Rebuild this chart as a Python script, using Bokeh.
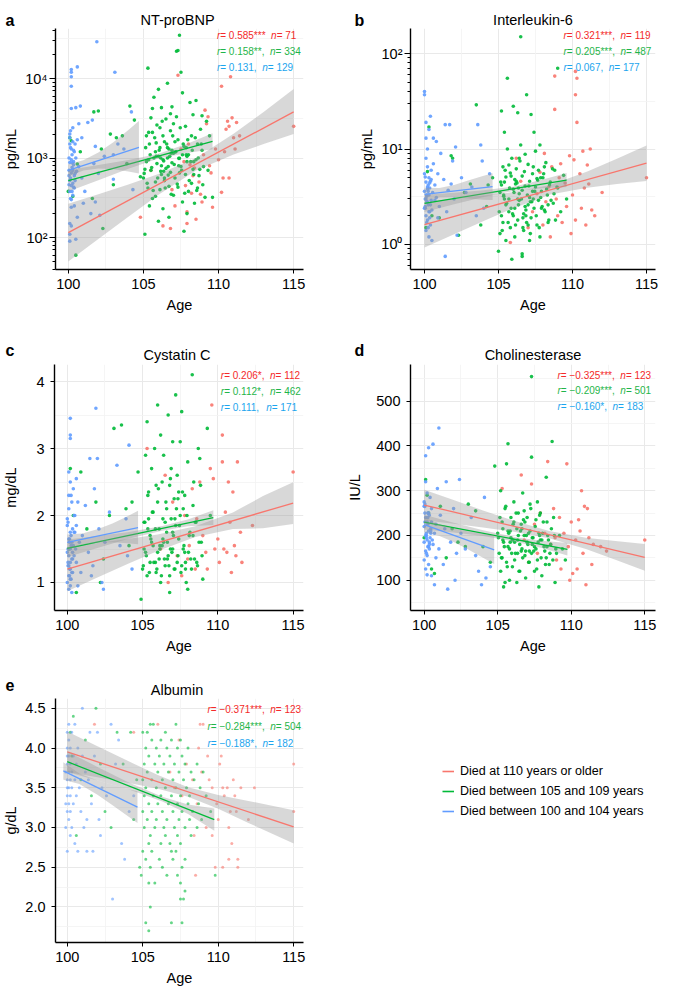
import math
from bokeh.plotting import figure
from bokeh.layouts import column, row
from bokeh.models import Range1d, FixedTicker, Label, Grid, Legend, LegendItem
from bokeh.embed import file_html
from bokeh.resources import INLINE

FONT = "Liberation Sans"
C_RED, C_GREEN, C_BLUE = "#F8766D", "#00BA38", "#619CFF"
T_RED, T_GREEN, T_BLUE = "#F42A2A", "#1FB54A", "#1CA5EE"
GROUPS = ["Died at 110 years or older", "Died between 105 and 109 years",
          "Died between 100 and 104 years"]
X_TICKS = [100, 105, 110, 115]
BULK_AGES = [105.05,105.15,105.25,105.35,105.45,105.55,105.65,105.75,105.85,105.95,
             106.05,106.15,106.25,106.35,106.45,106.55,106.65,106.75,106.85,106.95,
             107.05,107.15,107.25,107.35,107.45,107.55,107.65,107.75,107.85,107.95,
             108.05,108.15,108.25,108.35,108.45,108.55,108.65,108.75,108.85,108.95,
             105.35,105.85,106.35,106.85,107.35,107.85,108.35,106.15,106.65,107.15]
CENT_AGES = [100.05,100.15,100.25,100.35,100.05,100.15,100.25,100.35,100.45,100.05,
             100.15,100.25,100.35,100.45,100.05,100.15,100.25,100.35,100.45,100.55]

# ---------------- a: NT-proBNP (pg/mL) ----------------
a_blue_age = [100.1,100.1,100.2,100.2,100.2,100.2,100.2,100.2,100.3,100.1,
              100.3,100.2,100.1,100.3,100.2,100.4,100.1,100.3,100.2,100.4,
              100.1,100.3,100.2,100.4,100.2,100.1,100.2,100.1,100.1,100.5,
              100.5,100.6,100.7,100.8,100.6,100.9,100.5,100.7,100.9,101.1,
              101.0,101.3,101.6,101.9,101.8,101.7,102.0,101.5,101.8,102.1,
              102.4,103.1,103.0,103.3,103.7,104.2,104.3,103.0,100.4,100.6] + CENT_AGES
a_blue_val = [1500,1800,1300,13000,12000,10500,8000,4200,2400,2000,
              1600,950,880,700,650,600,520,480,450,420,
              380,340,300,250,240,150,140,110,90,95,
              4300,14000,2700,4500,1700,1800,1000,780,560,380,
              270,2800,3000,29000,1400,850,640,200,280,190,
              1050,12000,1100,1500,1300,3800,400,540,1200,180,
              700,560,1100,820,460,1350,380,900,640,1000,
              310,760,1250,520,600,2200,870,430,1500,680]
a_green_age = [100.1,100.2,100.0,100.3,100.5,100.6,100.8,101.7,102.0,102.2,
               102.8,103.2,103.6,104.1,104.4,103.9,104.8,102.3,101.6,103.0,
               105.1,105.3,105.0,105.2,105.4,105.5,105.6,105.5,105.3,105.7,
               105.8,105.9,105.6,105.8,106.0,106.1,106.0,106.2,106.1,106.3,
               106.2,106.4,106.3,106.5,106.4,106.6,106.5,106.7,106.6,106.8,
               106.7,106.9,106.8,107.0,106.9,107.1,107.0,107.2,107.3,107.4,
               107.5,107.2,107.3,107.4,107.5,107.3,107.6,107.7,107.6,107.8,
               107.7,107.9,107.8,108.0,108.1,108.2,108.0,108.3,108.2,108.4,
               108.5,108.6,108.5,108.7,108.8,108.9,109.0,109.1,109.2,109.4,
               109.6,105.2,105.9,106.3,106.6,107.1,107.9,106.1,106.9,105.7,
               106.4,107.4,105.4,106.0,108.6,106.8,105.1,107.0,105.6,108.3,
               107.6,106.2,106.7,105.8,107.9,108.9,109.3] + BULK_AGES
a_green_val = [1800,1650,380,330,60,840,1200,3800,3900,1300,
               2000,1800,1900,4500,3000,850,580,130,310,460,
               110,13500,560,900,1500,3200,2100,700,420,5800,
               1200,850,310,500,7300,2400,1050,620,400,230,
               4300,1600,950,740,520,8700,3100,1300,1000,660,
               180,4400,2200,1150,870,560,340,22000,22500,35000,
               12000,3300,1700,990,780,430,280,120,6600,2500,
               1400,900,620,380,5000,1900,1100,720,480,270,
               5300,1500,950,600,2300,1250,780,320,2900,1900,
               320,1900,2600,1900,1350,1600,1050,1350,1250,1000,
               560,650,250,160,420,3600,720,2700,4200,3500,
               1100,800,440,330,200,3400,700,
               640,1350,480,2100,1100,760,390,1800,1050,560,
               1250,680,2900,920,420,1500,610,1050,350,1900,
               830,1200,470,990,2400,700,1500,360,1100,1700,
               520,900,1250,620,1800,390,1000,720,1500,460,
               950,1550,680,1150,800,1350,900,1000,780,1200]
a_red_age = [104.8,105.5,106.3,106.8,107.1,107.3,107.5,107.7,107.8,107.9,
             107.9,108.1,108.2,108.3,108.5,108.7,108.9,108.8,109.0,109.2,
             109.3,109.1,109.5,109.8,110.0,110.2,110.2,110.3,110.5,110.6,
             110.7,110.8,110.9,111.0,111.1,111.2,111.4,110.4,109.6,108.4,
             115.0,110.7,108.0,106.9,109.4]
a_red_val = [180,700,140,130,250,11000,1300,900,450,210,
             150,820,360,600,170,500,280,350,1100,2700,
             3300,4000,650,1300,950,8000,370,560,2300,2900,
             560,10500,3200,1800,1300,2800,1900,1200,240,750,
             2500,2500,1500,400,800]
a_red_fit_age, a_red_fit_val = [100, 115], [115, 3800]
a_red_band_age = [100, 102, 104, 106, 108.5, 111, 113, 115]
a_red_band_lo = [50, 96, 183, 345, 694, 1107, 1498, 2000]
a_red_band_hi = [265, 350, 466, 630, 1002, 2022, 3792, 7400]
a_green_fit_age, a_green_fit_val = [100, 109.6], [518, 1622]
a_green_band_age = [100, 102, 104, 106, 108, 109.6]
a_green_band_lo = [379, 527, 735, 986, 1167, 1288]
a_green_band_hi = [706, 817, 946, 1132, 1538, 2042]
a_blue_fit_age, a_blue_fit_val = [100, 104.7], [700, 1360]
a_blue_band_age = [100, 101, 102, 103, 104, 104.7]
a_blue_band_lo = [586, 694, 738, 724, 678, 637]
a_blue_band_hi = [836, 937, 1169, 1583, 2244, 2911]
a_r = ["0.585***", "0.158**", "0.131"]
a_sep = ["", ",", ","]
a_n = ["71", "334", "129"]

# ---------------- b: Interleukin-6 (pg/mL) ----------------
b_blue_age = [100.0,100.0,100.1,100.3,100.4,100.1,100.2,100.1,100.2,100.0,
              100.3,100.1,100.2,100.0,100.3,100.1,100.2,100.4,100.0,100.3,
              100.1,100.2,100.4,100.1,100.3,100.5,100.6,100.8,100.6,100.9,
              100.7,100.8,101.0,100.9,101.1,101.3,101.4,101.7,101.4,101.6,
              101.5,101.9,102.1,101.8,102.2,102.0,102.5,103.2,103.8,103.9,
              103.6,104.0,104.4,103.5,102.8,100.5,100.7,100.2,100.4] + CENT_AGES
b_blue_val = [40,37,19,16,22,13,10,8,6.5,5.5,
              5,4.5,4,3.6,3.3,3.0,2.8,2.6,2.4,2.2,
              2.0,1.8,1.6,1.4,1.2,1.1,13,12,7,5.5,
              4.2,3.1,2.5,1.9,9,4.8,18,18,0.75,3.7,
              2.2,7.5,10.5,4.3,1.25,3.0,5.0,4.0,11,7.5,
              18,2.4,5.5,2.0,3.5,2.3,2.9,3.8,4.6,
              2.5,3.3,4.2,1.9,5.1,2.8,3.6,2.2,4.8,3.0,
              1.7,2.6,3.9,6.0,2.4,3.2,1.5,4.4,2.9,3.5]
b_green_age = [100.1,100.2,100.3,100.5,101.0,101.8,101.9,102.3,102.7,103.1,
               103.5,103.8,104.3,104.6,104.2,105.0,105.1,105.2,105.1,105.3,
               105.2,105.4,105.3,105.5,105.4,105.6,105.6,105.5,105.7,105.8,
               105.7,105.9,105.8,106.0,106.0,106.1,106.2,106.1,106.3,106.2,
               106.4,106.3,106.5,106.5,106.4,106.6,106.6,106.7,106.8,106.7,
               106.9,106.8,107.0,107.0,107.1,107.2,107.1,107.3,107.2,107.4,
               107.4,107.5,107.5,107.6,107.7,107.7,107.8,107.9,107.8,108.0,
               108.1,108.2,108.3,108.4,108.5,108.7,108.8,109.0,109.0,109.2,
               109.4,109.6,105.9,106.6,106.9,105.4,106.1,106.8,107.3,105.7,
               106.4,107.6,108.1,105.2,106.0,107.0,107.9,106.3,106.6,105.5,
               107.1] + BULK_AGES
b_green_val = [1.5,5.8,17,2.0,1.9,8.5,8.0,1.25,3.5,4.3,
               29,1.6,4.2,5.0,2.5,0.85,1.3,2.0,3.5,6.5,
               25,15,1.7,2.6,4.5,55,10,1.1,3.0,5.6,
               2.2,8.0,1.5,28,3.8,2.4,6.2,1.2,24,4.6,
               2.9,1.8,150,11,3.4,5.2,0.8,2.1,8.8,1.4,
               37,4.1,2.6,6.9,1.1,23,3.1,5.5,1.9,15,
               2.4,9.5,4.0,1.6,6.0,2.9,11,3.6,1.2,5.0,
               2.3,7.2,3.3,1.8,4.5,2.7,6.0,70,3.9,2.2,
               5.3,3.0,0.7,0.75,1.7,3.0,4.8,2.5,3.6,6.8,
               8.0,4.9,6.5,4.2,2.0,1.6,2.4,3.0,3.7,5.1,
               4.6,
               2.2,4.5,1.4,3.2,6.0,2.7,1.7,3.9,5.2,2.1,
               3.5,1.6,4.4,2.6,7.5,3.0,1.9,5.8,2.3,3.3,
               4.1,1.3,2.8,6.5,3.6,2.0,4.7,1.5,3.1,2.5,
               5.5,2.2,3.8,1.7,4.2,2.9,6.2,3.4,1.8,4.0,
               3.3,2.4,3.9,2.0,3.0,5.0,2.6,4.3,1.5,2.8]
b_red_age = [105.8,106.2,106.5,107.0,107.3,107.6,107.8,108.0,108.2,108.4,
             108.5,108.6,108.8,108.8,108.9,109.0,109.2,109.3,109.5,109.6,
             109.8,110.0,110.2,110.2,110.3,110.3,110.2,110.5,110.6,110.7,
             110.8,110.9,111.0,111.2,111.3,111.5,111.1,110.1,109.1,115.0,
             112.0,109.9,108.1]
b_red_val = [1.05,8.0,4.6,1.5,2.2,3.4,5.7,1.6,2.8,4.0,
             1.2,6.5,26,58,3.0,2.0,7.0,1.7,4.4,2.5,
             8.5,3.3,65,37,55,19,1.8,5.5,2.4,9.5,
             3.9,1.6,6.8,10,2.3,2.0,4.3,7.7,5.0,5.0,
             3.5,1.3,9.0]
b_red_fit_age, b_red_fit_val = [100, 115], [1.61, 7.1]
b_red_band_age = [100, 102, 104, 106, 108.5, 111, 113, 115]
b_red_band_lo = [0.93, 1.28, 1.76, 2.40, 3.33, 3.93, 4.29, 4.63]
b_red_band_hi = [2.79, 3.01, 3.25, 3.54, 4.19, 5.81, 7.91, 10.9]
b_green_fit_age, b_green_fit_val = [100, 109.6], [2.69, 4.73]
b_green_band_age = [100, 102, 104, 106, 108, 109.6]
b_green_band_lo = [2.19, 2.64, 3.14, 3.64, 3.88, 4.0]
b_green_band_hi = [3.31, 3.48, 3.69, 4.03, 4.78, 5.6]
b_blue_fit_age, b_blue_fit_val = [100, 104.6], [3.35, 4.03]
b_blue_band_age = [100, 101, 102, 103, 104, 104.6]
b_blue_band_lo = [2.85, 3.11, 3.13, 3.03, 2.95, 2.92]
b_blue_band_hi = [3.94, 3.91, 4.21, 4.70, 5.24, 5.56]
b_r = ["0.321***", "0.205***", "0.067"]
b_sep = [",", ",", ","]
b_n = ["119", "487", "177"]

# ---------------- c: Cystatin C (mg/dL) ----------------
c_blue_age = [100.0,100.1,100.2,100.2,100.2,100.1,100.2,100.1,100.3,100.0,
              100.2,100.1,100.3,100.2,100.0,100.1,100.3,100.2,100.1,100.2,
              100.3,100.1,100.2,100.0,100.2,100.1,100.3,100.4,100.5,100.6,
              100.7,100.5,100.8,100.6,100.9,100.7,101.0,101.2,101.5,101.4,
              101.6,101.9,102.0,101.8,102.1,101.7,102.3,102.5,102.8,103.3,
              103.5,103.9,104.1,104.3,104.0,102.4,100.4,100.6] + CENT_AGES
c_blue_val = [1.95,2.1,3.45,3.2,3.15,2.65,2.5,2.3,2.2,1.85,
              1.75,1.65,1.6,1.5,1.45,1.4,1.35,1.3,1.25,1.2,
              1.15,1.1,1.05,1.0,0.95,0.9,0.85,2.4,2.0,2.55,
              2.2,1.75,1.6,1.3,1.15,0.95,1.7,2.15,2.85,1.45,
              1.1,3.6,2.85,2.4,1.8,1.25,1.0,1.6,2.05,2.75,
              1.55,1.95,3.05,1.2,1.4,0.9,1.55,1.85,
              1.5,1.2,1.7,1.35,1.9,1.1,1.55,1.45,2.0,1.25,
              1.65,1.05,1.8,1.4,1.3,1.6,2.3,1.15,1.75,1.5]
c_green_age = [100.2,100.4,100.1,100.6,100.9,101.3,101.9,102.2,102.4,102.8,
               103.1,103.6,103.9,104.3,104.7,104.9,104.1,105.0,105.1,105.2,
               105.2,105.3,105.4,105.3,105.5,105.6,105.5,105.7,105.8,105.7,
               105.9,106.0,106.0,106.1,106.1,106.2,106.3,106.2,106.4,106.4,
               106.5,106.6,106.6,106.7,106.7,106.8,106.8,106.9,107.0,107.0,
               107.1,107.1,107.2,107.2,107.3,107.3,107.4,107.5,107.5,107.6,
               107.6,107.7,107.8,107.9,108.0,108.1,108.3,108.2,108.4,108.5,
               108.7,108.8,108.9,109.0,109.3,109.5,106.3,105.4,106.9,107.8,
               105.9,107.4,106.5,105.6,107.0,108.6,106.0,105.1,108.0,107.7,
               106.8] + BULK_AGES
c_green_val = [2.7,2.0,1.5,0.85,2.65,1.8,2.2,1.0,1.35,2.0,
               3.3,3.35,2.1,2.2,2.65,0.75,1.55,1.2,1.9,2.9,
               1.45,3.4,2.35,1.1,1.7,2.7,1.3,2.05,3.0,1.55,
               1.15,3.65,2.2,1.8,1.35,3.2,2.5,1.0,1.6,2.9,
               1.25,2.1,1.75,3.5,1.4,2.45,1.1,1.95,3.1,1.5,
               2.25,1.2,3.8,1.85,2.6,1.3,1.65,3.1,2.0,3.55,
               1.25,1.5,2.3,1.0,2.8,1.7,4.1,1.35,2.5,1.9,
               3.0,2.85,1.6,1.05,3.3,2.0,1.55,1.95,2.7,1.45,
               2.45,2.35,1.9,1.6,1.75,1.3,1.45,1.5,0.9,2.1,
               0.85,
               1.25,1.9,1.4,2.3,1.15,1.65,2.05,1.3,1.8,1.2,
               2.4,1.5,1.1,1.95,1.35,2.2,1.6,1.25,2.55,1.45,
               1.7,1.2,2.1,1.4,1.85,1.15,2.35,1.55,1.3,2.0,
               1.45,1.75,1.2,2.15,1.35,1.9,1.25,1.6,2.45,1.4,
               1.8,1.3,1.65,1.5,2.25,1.2,1.7,1.55,1.35,1.95]
c_red_age = [105.3,106.5,106.7,106.2,107.0,107.3,107.6,107.8,108.1,108.3,
             108.5,108.6,108.8,109.0,109.2,109.5,109.6,109.7,109.8,110.0,
             110.1,110.3,110.3,110.4,110.6,110.7,110.8,110.9,111.0,111.1,
             111.3,111.5,111.6,112.3,115.0,109.3,108.0,110.5,111.2]
c_red_val = [3.0,2.6,1.0,1.5,2.2,1.4,1.1,2.0,1.55,2.4,
             1.2,1.95,2.5,1.7,1.45,2.7,3.65,2.55,1.5,1.65,
             1.3,3.2,2.8,1.5,1.45,2.5,1.9,1.15,2.35,1.55,
             2.8,1.75,1.3,1.85,2.65,1.2,1.35,2.05,1.4]
c_red_fit_age, c_red_fit_val = [100, 115], [1.20, 2.185]
c_red_band_age = [100, 102, 104, 106, 108.5, 111, 113, 115]
c_red_band_lo = [0.87, 1.073, 1.276, 1.47, 1.678, 1.798, 1.81, 1.875]
c_red_band_hi = [1.53, 1.589, 1.65, 1.718, 1.838, 2.046, 2.29, 2.495]
c_green_fit_age, c_green_fit_val = [100, 109.7], [1.51, 1.97]
c_green_band_age = [100, 102, 104, 106.3, 108, 109.7]
c_green_band_lo = [1.38, 1.515, 1.65, 1.774, 1.839, 1.86]
c_green_band_hi = [1.64, 1.695, 1.75, 1.844, 1.939, 2.08]
c_blue_fit_age, c_blue_fit_val = [100, 104.7], [1.60, 1.82]
c_blue_band_age = [100, 101, 102, 103, 104, 104.7]
c_blue_band_lo = [1.485, 1.562, 1.594, 1.60, 1.587, 1.57]
c_blue_band_hi = [1.715, 1.732, 1.794, 1.88, 1.987, 2.07]
c_r = ["0.206*", "0.112*", "0.111"]
c_sep = [",", ",", ","]
c_n = ["112", "462", "171"]

# ---------------- d: Cholinesterase (IU/L) ----------------
d_blue_age = [100.0,100.1,100.3,100.6,100.1,100.2,100.0,100.3,100.1,100.2,
              100.0,100.3,100.1,100.2,100.0,100.3,100.1,100.2,100.0,100.3,
              100.1,100.2,100.4,100.5,101.0,100.5,100.7,100.6,100.8,100.5,
              100.7,100.9,101.1,101.0,101.3,101.5,101.4,101.6,101.8,102.0,
              102.2,102.1,102.5,102.8,103.2,103.5,103.7,104.1,104.2,103.9,
              104.5,102.4,100.4,100.8] + CENT_AGES
d_blue_val = [275,378,396,404,320,295,265,250,240,230,
              220,210,200,190,185,175,165,155,145,135,
              125,112,285,260,440,230,205,180,150,110,
              90,305,245,170,135,320,215,80,185,260,
              160,100,205,170,240,155,120,285,105,90,
              130,325,195,225,
              250,205,225,180,265,195,240,170,215,230,
              160,250,185,205,270,200,175,245,210,190]
d_green_age = [100.1,100.2,100.0,100.3,100.5,100.7,101.1,101.5,101.9,102.3,
               102.8,103.0,103.5,104.0,104.5,104.8,105.0,105.1,105.2,105.2,
               105.3,105.4,105.4,105.5,105.6,105.6,105.7,105.8,105.8,105.9,
               106.0,106.0,106.1,105.7,106.2,106.3,106.3,106.4,106.5,106.5,
               106.6,106.7,106.7,106.8,106.9,106.9,107.0,107.0,107.1,107.2,
               107.2,107.3,107.3,107.3,107.4,107.5,107.6,107.6,107.7,107.7,
               107.8,107.9,108.0,108.1,108.2,108.3,108.4,108.7,108.5,108.6,
               108.8,108.9,109.0,109.2,109.4,109.6,106.4,105.7,107.1,106.1,
               107.9,105.3,106.8,108.0,105.9,107.5,106.6,108.3,105.5,107.8] + BULK_AGES
d_green_val = [325,290,195,250,125,115,265,150,215,185,
               175,270,255,175,140,355,205,160,300,120,
               230,185,85,260,140,360,210,170,100,240,
               190,130,275,405,160,215,95,250,180,120,
               225,150,295,200,165,105,240,185,140,270,
               210,375,160,555,195,120,235,170,275,145,
               205,190,110,230,165,330,200,410,135,180,
               240,95,160,200,170,145,200,175,205,230,
               250,150,255,190,195,175,165,150,95,85,
               195,240,150,215,175,265,130,205,185,160,
               225,145,250,190,120,210,170,235,155,200,
               180,140,260,195,165,220,125,185,245,150,
               205,175,135,230,190,160,215,145,200,170,
               190,210,160,230,180,200,175,185,215,165]
d_red_age = [105.3,106.6,106.8,107.1,107.3,107.5,107.7,107.9,108.2,108.4,
             108.6,108.8,109.0,109.2,109.3,109.5,109.7,109.8,110.0,110.1,
             110.3,110.4,110.6,110.8,110.9,111.0,111.2,111.4,111.5,111.1,
             110.7,112.0,112.4,115.0,109.9,108.9,110.5]
d_red_val = [305,335,190,140,315,225,160,250,205,365,
             180,260,145,240,125,205,360,175,230,115,
             190,125,210,160,265,90,195,135,180,260,
             300,175,165,190,100,195,235]
d_red_fit_age, d_red_fit_val = [100, 115], [268, 151]
d_red_band_age = [100, 102, 104, 106, 108.5, 111, 113, 115]
d_red_band_lo = [234, 226, 217.6, 208.6, 193.7, 169.6, 145.6, 121]
d_red_band_hi = [302, 279, 256, 233.8, 209.7, 194.8, 187.6, 181]
d_green_fit_age, d_green_fit_val = [100, 109.74], [230, 169]
d_green_band_age = [100, 102, 104, 106.3, 108, 109.74]
d_green_band_lo = [213.5, 206.5, 198.5, 185.6, 171.9, 155]
d_green_band_hi = [246.5, 228.5, 211.5, 195.6, 187.9, 183]
d_blue_fit_age, d_blue_fit_val = [100, 104.76], [224, 168]
d_blue_band_age = [100, 101, 102, 103, 104, 104.76]
d_blue_band_lo = [207, 199.2, 185.5, 168.7, 150, 136]
d_blue_band_hi = [241, 225.2, 215.5, 208.7, 204, 200]
d_r = ["\u22120.325***", "\u22120.209***", "\u22120.160*"]
d_sep = [",", ",", ","]
d_n = ["123", "501", "183"]

# ---------------- e: Albumin (g/dL) ----------------
e_blue_age = [99.9,99.9,99.9,100.0,100.0,100.0,100.0,100.0,100.0,100.0,
              100.0,100.0,100.1,100.1,100.1,100.1,100.1,100.1,100.1,100.2,
              100.2,100.2,100.2,100.2,100.2,100.3,100.3,100.3,100.3,100.4,
              100.4,100.5,100.5,100.5,100.6,100.6,100.7,100.7,100.8,100.9,
              101.0,101.0,101.1,101.2,101.3,101.4,101.5,101.6,101.7,101.8,
              102.0,102.1,102.3,102.6,102.9,103.0,103.2,103.4,103.6,103.8,
              104.1,104.4,101.3,102.2]
e_blue_val = [3.7,3.3,3.0,4.2,4.0,3.9,3.8,3.6,3.5,3.4,
              3.2,2.7,4.3,4.1,3.9,3.7,3.5,3.3,3.1,4.0,
              3.8,3.6,3.4,3.2,2.9,4.2,3.7,3.5,3.0,3.9,
              3.3,4.3,3.6,2.8,3.8,3.4,4.0,2.7,3.5,3.2,
              4.5,3.9,3.0,3.7,2.7,3.6,4.2,3.3,2.7,3.9,
              4.2,3.1,3.5,3.4,4.3,2.1,3.8,4.1,2.8,2.6,
              3.2,3.4,3.1,2.9]
e_green_age = [100.2,100.4,100.3,100.6,100.9,101.2,101.6,101.9,102.2,102.5,
               102.9,103.3,103.7,104.2,104.6,104.8,104.4,
               105.5,105.7,107.2,
               105.0,105.3,106.5,
               105.6,106.2,106.9,107.5,
               105.2,105.9,106.6,107.3,108.0,
               105.4,106.1,106.8,107.6,
               105.1,105.8,106.4,107.1,107.8,108.6,
               105.3,106.0,106.7,107.4,108.2,109.0,
               105.0,105.6,106.3,107.0,107.7,108.4,
               105.2,105.9,106.5,107.2,107.9,108.8,
               105.1,105.7,106.2,106.9,107.5,108.1,109.2,
               105.4,106.0,106.7,107.3,108.0,108.7,
               105.0,105.6,106.3,107.0,107.6,108.3,109.5,
               105.3,105.9,106.6,107.4,108.1,108.9,
               105.1,105.8,106.4,107.1,107.8,108.6,
               105.5,106.5,107.3,108.2,
               105.4,106.2,106.8,107.5,
               105.0,105.6,106.9,107.2,
               105.2,106.1,107.0,107.8,
               105.5,106.3,107.6,
               104.9,106.6,107.3,109.8,
               105.4,105.8,107.5,
               107.8,
               107.5,107.7,
               105.5,
               105.2,106.9,107.6,
               105.4]
e_green_val = [4.2,4.4,3.9,2.9,3.6,4.1,3.4,4.5,3.8,3.2,
               3.0,4.2,3.8,4.2,3.6,2.5,3.1,
               4.3,4.3,4.3,
               4.2,4.2,4.2,
               4.1,4.1,4.1,4.1,
               4.0,4.0,4.0,4.0,4.0,
               3.9,3.9,3.9,3.9,
               3.8,3.8,3.8,3.8,3.8,3.8,
               3.7,3.7,3.7,3.7,3.7,3.7,
               3.6,3.6,3.6,3.6,3.6,3.6,
               3.5,3.5,3.5,3.5,3.5,3.5,
               3.4,3.4,3.4,3.4,3.4,3.4,3.4,
               3.3,3.3,3.3,3.3,3.3,3.3,
               3.2,3.2,3.2,3.2,3.2,3.2,3.2,
               3.1,3.1,3.1,3.1,3.1,3.1,
               3.0,3.0,3.0,3.0,3.0,3.0,
               2.9,2.9,2.9,2.9,
               2.8,2.8,2.8,2.8,
               2.7,2.7,2.7,2.7,
               2.6,2.6,2.6,2.6,
               2.5,2.5,2.5,
               2.4,2.4,2.4,2.4,
               2.3,2.3,2.3,
               2.2,
               2.1,2.1,
               2.0,
               1.8,1.8,1.8,
               1.7]
e_red_age = [101.8,104.4,106.0,108.8,109.0,107.4,108.7,110.2,109.3,107.9,
             108.9,110.1,106.8,108.3,109.6,110.3,110.6,111.0,111.1,111.5,
             112.4,107.6,108.6,109.9,110.4,110.8,111.2,112.0,109.2,110.0,
             110.7,108.4,109.6,110.9,111.3,110.7,110.3,111.3,109.8,108.5,
             115.0,115.0,109.4,107.1]
e_red_val = [4.3,4.2,4.3,4.3,4.3,4.1,4.0,3.9,3.9,3.8,
             3.7,3.8,3.7,3.6,3.5,3.5,3.5,3.6,3.4,3.5,
             3.5,3.4,3.3,3.3,3.4,3.2,3.2,3.1,3.0,3.1,
             3.0,2.9,2.9,2.8,2.6,2.6,2.5,2.5,2.5,2.4,
             3.8,3.2,3.6,3.5]
e_red_fit_age, e_red_fit_val = [100, 115], [3.953, 3.007]
e_red_band_age = [100, 102, 104, 106, 108, 110, 112, 115]
e_red_band_lo = [3.698, 3.632, 3.563, 3.489, 3.388, 3.236, 3.058, 2.797]
e_red_band_hi = [4.208, 4.022, 3.839, 3.661, 3.508, 3.408, 3.334, 3.217]
e_green_fit_age, e_green_fit_val = [100, 109.74], [3.828, 3.099]
e_green_band_age = [100, 102, 104, 106.3, 108, 109.74]
e_green_band_lo = [3.698, 3.593, 3.484, 3.326, 3.17, 2.959]
e_green_band_hi = [3.958, 3.763, 3.574, 3.386, 3.29, 3.239]
e_blue_fit_age, e_blue_fit_val = [99.74, 104.65], [3.712, 3.256]
e_blue_band_age = [99.74, 100.8, 102, 103, 104, 104.65]
e_blue_band_lo = [3.602, 3.549, 3.412, 3.279, 3.146, 3.056]
e_blue_band_hi = [3.822, 3.679, 3.592, 3.539, 3.486, 3.456]
e_r = ["\u22120.371***", "\u22120.284***", "\u22120.188*"]
e_sep = [",", ",", ","]
e_n = ["123", "504", "182"]

# ---------------- helpers ----------------
AW = {' ': 278, '=': 584, '.': 278, '*': 389, ',': 278, '\u2212': 584, 'r': 333, 'n': 556}
for _d in "0123456789":
    AW[_d] = 556


def text_width(s, size):
    return sum(AW.get(ch, 556) for ch in s) * size / 1000.0


def to_data(g, px, py):
    x0, x1 = g["xr"]
    y0, y1 = g["yr"]
    x = x0 + (px - g["L"]) / (g["R"] - g["L"]) * (x1 - x0)
    f = (g["B"] - py) / (g["B"] - g["T"])
    if g["log"]:
        y = 10 ** (math.log10(y0) + f * (math.log10(y1) - math.log10(y0)))
    else:
        y = y0 + f * (y1 - y0)
    return x, y


def pts(ages, vals):
    n = min(len(ages), len(vals))
    return ages[:n], vals[:n]


def make_panel(g):
    fx, fy, fw, fh = g["fig"]
    p = figure(width=fw, height=fh, output_backend="svg", toolbar_location=None,
               x_range=Range1d(*g["xr"]), y_range=Range1d(*g["yr"]),
               y_axis_type="log" if g["log"] else "linear",
               min_border_left=g["L"] - fx, min_border_right=fx + fw - g["R"],
               min_border_top=g["T"] - fy, min_border_bottom=fy + fh - g["B"])
    p.title.visible = False
    p.outline_line_color = None
    p.background_fill_color = "white"
    p.border_fill_color = "white"
    p.xgrid.ticker = FixedTicker(ticks=X_TICKS)
    p.ygrid.ticker = FixedTicker(ticks=g["yticks"])
    for gr in (p.xgrid[0], p.ygrid[0]):
        gr.grid_line_color = "#E9E9E9"
        gr.grid_line_width = 1
    p.add_layout(Grid(dimension=0, ticker=FixedTicker(ticks=[102.5, 107.5, 112.5]),
                      grid_line_color="#F3F3F3", grid_line_width=0.8))
    p.add_layout(Grid(dimension=1, ticker=FixedTicker(ticks=g["ygrid_minor"]),
                      grid_line_color="#F3F3F3", grid_line_width=0.8))
    xa, ya = p.xaxis[0], p.yaxis[0]
    xa.ticker = FixedTicker(ticks=X_TICKS)
    if g["log"]:
        ya.ticker = FixedTicker(ticks=g["yticks"], minor_ticks=g["yminor"])
        ya.major_label_overrides = g["ylabels"]
        ya.major_tick_out = 6
        ya.minor_tick_out = 3
        ya.minor_tick_in = 0
        ya.minor_tick_line_color = "black"
        ya.minor_tick_line_width = 1
    else:
        ya.ticker = FixedTicker(ticks=g["yticks"])
        if "ylabels" in g:
            ya.major_label_overrides = g["ylabels"]
        ya.major_tick_out = 4
        ya.minor_tick_line_color = None
    xa.major_tick_out = 4
    xa.minor_tick_line_color = None
    for ax in (xa, ya):
        ax.major_tick_in = 0
        ax.axis_line_color = "black"
        ax.axis_line_width = 1.4
        ax.major_tick_line_color = "black"
        ax.major_tick_line_width = 1
        ax.major_label_text_font = FONT
        ax.major_label_text_font_size = "14.5px"
        ax.major_label_text_color = "black"
        ax.axis_label_text_font = FONT
        ax.axis_label_text_font_size = "14.5px"
        ax.axis_label_text_font_style = "normal"
        ax.axis_label_text_color = "black"
    xa.axis_label = "Age"
    xa.major_label_standoff = 5
    xa.axis_label_standoff = 5
    ya.axis_label = g["ylabel"]
    ya.major_label_standoff = g["ystand"]
    ya.axis_label_standoff = g["ylabstand"]

    data = g["data"]
    for key, col in (("red", C_RED), ("green", C_GREEN), ("blue", C_BLUE)):
        ages, vals = pts(*data[key + "_pts"])
        p.scatter(x=ages, y=vals, size=g["psize"], fill_color=col, line_color=None,
                  fill_alpha=g["palpha"])
    for key, col in (("red", C_RED), ("green", C_GREEN), ("blue", C_BLUE)):
        bx, blo, bhi = data[key + "_band"]
        p.varea(x=bx, y1=blo, y2=bhi, fill_color="#999999", fill_alpha=0.38)
        fxs, fys = data[key + "_fit"]
        p.line(x=fxs, y=fys, line_color=col, line_width=1.3)

    sx = g["stats_x"]
    size = 10
    for (rv, sep, nv), py, col in zip(g["stats"], g["stats_y"], (T_RED, T_GREEN, T_BLUE)):
        pieces = [("r", "italic"), (f" = {rv}{sep} ", "normal"), ("n", "italic"), (f" = {nv}", "normal")]
        off = 0.0
        x, y = to_data(g, sx, py)
        for txt, style in pieces:
            p.add_layout(Label(x=x, y=y, x_offset=off, text=txt, text_font=FONT,
                               text_font_size=f"{size}px", text_font_style=style,
                               text_color=col, text_baseline="middle", text_align="left"))
            off += text_width(txt, size)
    return p


def make_header(top, bottom, items):
    """A strip above a row of panels holding the panel letters and titles (page pixel coords)."""
    h = figure(width=669, height=bottom - top, output_backend="svg", toolbar_location=None,
               x_range=Range1d(8, 677), y_range=Range1d(bottom, top),
               x_axis_location=None, y_axis_location=None,
               min_border_left=0, min_border_right=0, min_border_top=0, min_border_bottom=0)
    h.title.visible = False
    h.outline_line_color = None
    h.grid.visible = False
    for txt, x, y, kind in items:
        if kind == "letter":
            h.add_layout(Label(x=x, y=y, text=txt, text_font=FONT, text_font_size="16px",
                               text_font_style="bold", text_color="black",
                               text_baseline="alphabetic", text_align="left"))
        else:
            h.add_layout(Label(x=x, y=y, text=txt, text_font=FONT, text_font_size="14.5px",
                               text_color="black", text_baseline="alphabetic",
                               text_align="center"))
    return h


def log_minor(lo_exp, hi_exp):
    return [k * 10 ** e for e in range(lo_exp, hi_exp + 1) for k in range(2, 10)]


SUP = {0: "\u2070", 1: "\u00b9", 2: "\u00b2", 3: "\u00b3", 4: "\u2074"}


def pdata(pfx):
    G = globals()
    d = {}
    for key in ("red", "green", "blue"):
        d[key + "_pts"] = (G[f"{pfx}_{key}_age"], G[f"{pfx}_{key}_val"])
        d[key + "_band"] = (G[f"{pfx}_{key}_band_age"], G[f"{pfx}_{key}_band_lo"], G[f"{pfx}_{key}_band_hi"])
        d[key + "_fit"] = (G[f"{pfx}_{key}_fit_age"], G[f"{pfx}_{key}_fit_val"])
    return d


panels = {
    "a": dict(fig=(8, 36, 332, 296), L=59, R=311, T=36, B=277, xr=(99.148, 115.655),
              yr=(39.6, 42560), log=True, yticks=[100, 1000, 10000],
              yminor=[v for v in log_minor(1, 4) if 39.6 <= v <= 42560],
              ylabels={100: "10" + SUP[2], 1000: "10" + SUP[3], 10000: "10" + SUP[4]},
              ygrid_minor=[10 ** 2.5, 10 ** 3.5, 10 ** 4.5],
              ylabel="pg/mL", ystand=2, ylabstand=3,
              stats_x=223, stats_y=[43, 59, 75],
              stats=list(zip(a_r, a_sep, a_n)), psize=3.6, palpha=0.9, data=pdata("a")),
    "b": dict(fig=(340, 36, 337, 296), L=418, R=663, T=36, B=277, xr=(99.054, 115.608),
              yr=(0.547, 182.9), log=True, yticks=[1, 10, 100],
              yminor=[v for v in log_minor(-1, 2) if 0.547 <= v <= 182.9],
              ylabels={1: "10" + SUP[0], 10: "10" + SUP[1], 100: "10" + SUP[2]},
              ygrid_minor=[10 ** -0.5, 10 ** 0.5, 10 ** 1.5],
              ylabel="pg/mL", ystand=2, ylabstand=3,
              stats_x=571, stats_y=[43, 59, 75],
              stats=list(zip(b_r, b_sep, b_n)), psize=3.6, palpha=0.9, data=pdata("b")),
    "c": dict(fig=(8, 372, 332, 300), L=58, R=311, T=372, B=618, xr=(99.15, 115.69),
              yr=(0.582, 4.254), log=False, yticks=[1, 2, 3, 4],
              ygrid_minor=[1.5, 2.5, 3.5],
              ylabel="mg/dL", ystand=6, ylabstand=14,
              stats_x=227, stats_y=[383, 399, 415],
              stats=list(zip(c_r, c_sep, c_n)), psize=3.6, palpha=0.9, data=pdata("c")),
    "d": dict(fig=(340, 372, 337, 300), L=418, R=663, T=372, B=618, xr=(99.07, 115.73),
              yr=(32.3, 582), log=False, yticks=[100, 200, 300, 400, 500],
              ygrid_minor=[50, 150, 250, 350, 450, 550],
              ylabel="IU/L", ystand=6, ylabstand=10,
              stats_x=565, stats_y=[383, 398, 414],
              stats=list(zip(d_r, d_sep, d_n)), psize=3.6, palpha=0.9, data=pdata("d")),
    "e": dict(fig=(8, 706, 332, 293), L=58, R=311, T=706, B=950, xr=(99.22, 115.65),
              yr=(1.552, 4.624), log=False, yticks=[2.0, 2.5, 3.0, 3.5, 4.0, 4.5],
              ylabels={2.0: "2.0", 2.5: "2.5", 3.0: "3.0", 3.5: "3.5", 4.0: "4.0", 4.5: "4.5"},
              ygrid_minor=[1.75, 2.25, 2.75, 3.25, 3.75, 4.25],
              ylabel="g/dL", ystand=6, ylabstand=3,
              stats_x=213, stats_y=[717, 734, 751],
              stats=list(zip(e_r, e_sep, e_n)), psize=3.0, palpha=0.6, data=pdata("e")),
}

figs = {k: make_panel(g) for k, g in panels.items()}

head1 = make_header(8, 36, [("a", 13, 28, "letter"), ("NT-proBNP", 185, 27, "title"),
                            ("b", 362, 28, "letter"), ("Interleukin-6", 540.5, 27, "title")])
head2 = make_header(332, 372, [("c", 13, 357.5, "letter"), ("Cystatin C", 184.5, 362.5, "title"),
                               ("d", 362, 357.5, "letter"), ("Cholinesterase", 540.5, 362.5, "title")])
head3 = make_header(672, 706, [("e", 13, 692, "letter"), ("Albumin", 184.5, 697, "title")])

# legend panel
pf = figure(width=337, height=293, output_backend="svg", toolbar_location=None,
            x_range=Range1d(0, 1), y_range=Range1d(0, 1),
            x_axis_location=None, y_axis_location=None,
            min_border_left=0, min_border_right=0, min_border_top=0, min_border_bottom=0)
pf.title.visible = False
pf.outline_line_color = None
pf.grid.visible = False
leg_renderers = [pf.line(x=[5, 6], y=[5, 6], line_color=c, line_width=1.6)
                 for c in (C_RED, C_GREEN, C_BLUE)]
legend = Legend(items=[LegendItem(label=g, renderers=[r]) for g, r in zip(GROUPS, leg_renderers)],
                location=(110, 121), border_line_color=None, background_fill_alpha=0,
                padding=0, margin=0, spacing=0, glyph_width=12, glyph_height=20,
                label_height=20, label_standoff=6, label_text_font=FONT,
                label_text_font_size="12.5px", label_text_color="black")
pf.add_layout(legend)

layout = column(head1, row(figs["a"], figs["b"]), head2, row(figs["c"], figs["d"]),
                head3, row(figs["e"], pf))
open("out.html", "w").write(file_html(layout, INLINE))
